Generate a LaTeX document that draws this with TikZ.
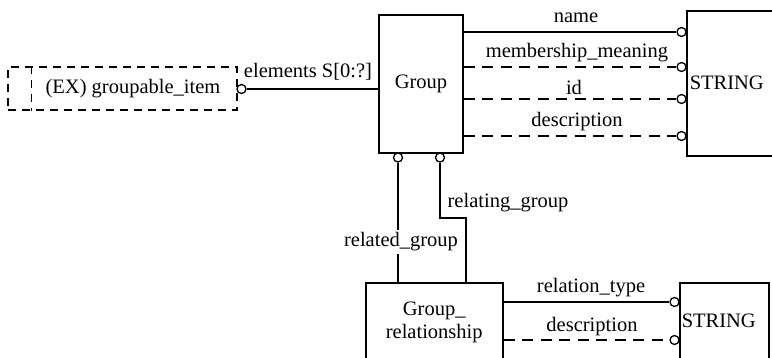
\documentclass[tikz,border=0pt]{standalone}
\usepackage{fontspec}
\setmainfont{Liberation Serif}
\usetikzlibrary{calc}
\begin{document}
\begin{tikzpicture}[x=1bp,y=-1bp,
  every node/.style={font=\fontsize{20.5bp}{23bp}\selectfont},
  ent/.style={draw,line width=1.5bp,inner sep=0pt},
  lbl/.style={inner sep=0pt},
  ring/.style={draw,circle,line width=1.3bp,minimum size=9bp,inner sep=0pt,fill=white},
  link/.style={line width=1.5bp},
  dlink/.style={line width=1.5bp,dash pattern=on 11bp off 7.5bp},
  ddbox/.style={draw,line width=1.3bp,dash pattern=on 8bp off 6bp,inner sep=0pt}]
\useasboundingbox (0,0) rectangle (772,357);
\clip (0,0) rectangle (772,357);
% entities
\node[ent,minimum width=84bp,minimum height=138bp] (grp) at (421,84) {Group};
\node[ent,minimum height=145bp,text width=108bp,inner xsep=3bp,align=left,anchor=north west] (s1) at (686,10) {STRING};
\node[ent,minimum width=137bp,minimum height=80bp,align=center,anchor=north west] (grel) at (365,282) {Group\_\\relationship};
\node[ent,minimum height=76bp,text width=85bp,inner xsep=2bp,align=left,anchor=north west] (s2) at (679,282) {STRING};
\node[ddbox,minimum width=229bp,minimum height=43bp] (gi) at (122.5,88.5) {};
\draw[line width=1.3bp,dash pattern=on 8bp off 6bp] ($(gi.north west)+(24,0)$) -- ($(gi.south west)+(24,0)$);
\node[lbl] (git) at (133,89) {(EX) groupable\_item};
% rings
\node[ring] (ce) at (241.5,89) {};
\node[ring] (c1) at (681.5,32) {};
\node[ring] (c2) at (681.5,67) {};
\node[ring] (c3) at (681.5,99) {};
\node[ring] (c4) at (681.5,136) {};
\node[ring] (cb1) at (398,157.5) {};
\node[ring] (cb2) at (440,157.5) {};
\node[ring] (c5) at (674.5,302) {};
\node[ring] (c6) at (674.5,340) {};
% connectors
\draw[link] (ce.east) -- (grp.west |- ce);
\draw[link] (grp.east |- c1) -- (c1.west);
\draw[dlink] (grp.east |- c2) -- (c2.west);
\draw[dlink] (grp.east |- c3) -- (c3.west);
\draw[dlink] (grp.east |- c4) -- (c4.west);
\coordinate (bend1) at (440,218);
\coordinate (bend2) at (466,218);
\draw[link] (cb1.south) -- (cb1.south |- grel.north);
\draw[link] (cb2.south) -- (bend1) -- (bend2) -- (bend2 |- grel.north);
\draw[link] (grel.east |- c5) -- (c5.west);
\draw[dlink] (grel.east |- c6) -- (c6.west);
% labels
\node[lbl] at (308,72) {elements S[0:?]};
\node[lbl] at (576,18) {name};
\node[lbl] at (577,53) {membership\_meaning};
\node[lbl] at (574,87) {id};
\node[lbl] at (577,122) {description};
\node[lbl] at (508,203) {relating\_group};
\node[lbl,fill=white,inner xsep=1bp,inner ysep=3bp] at (401,242) {related\_group};
\node[lbl] at (591,288) {relation\_type};
\node[lbl] at (592,327) {description};
\end{tikzpicture}
\end{document}
